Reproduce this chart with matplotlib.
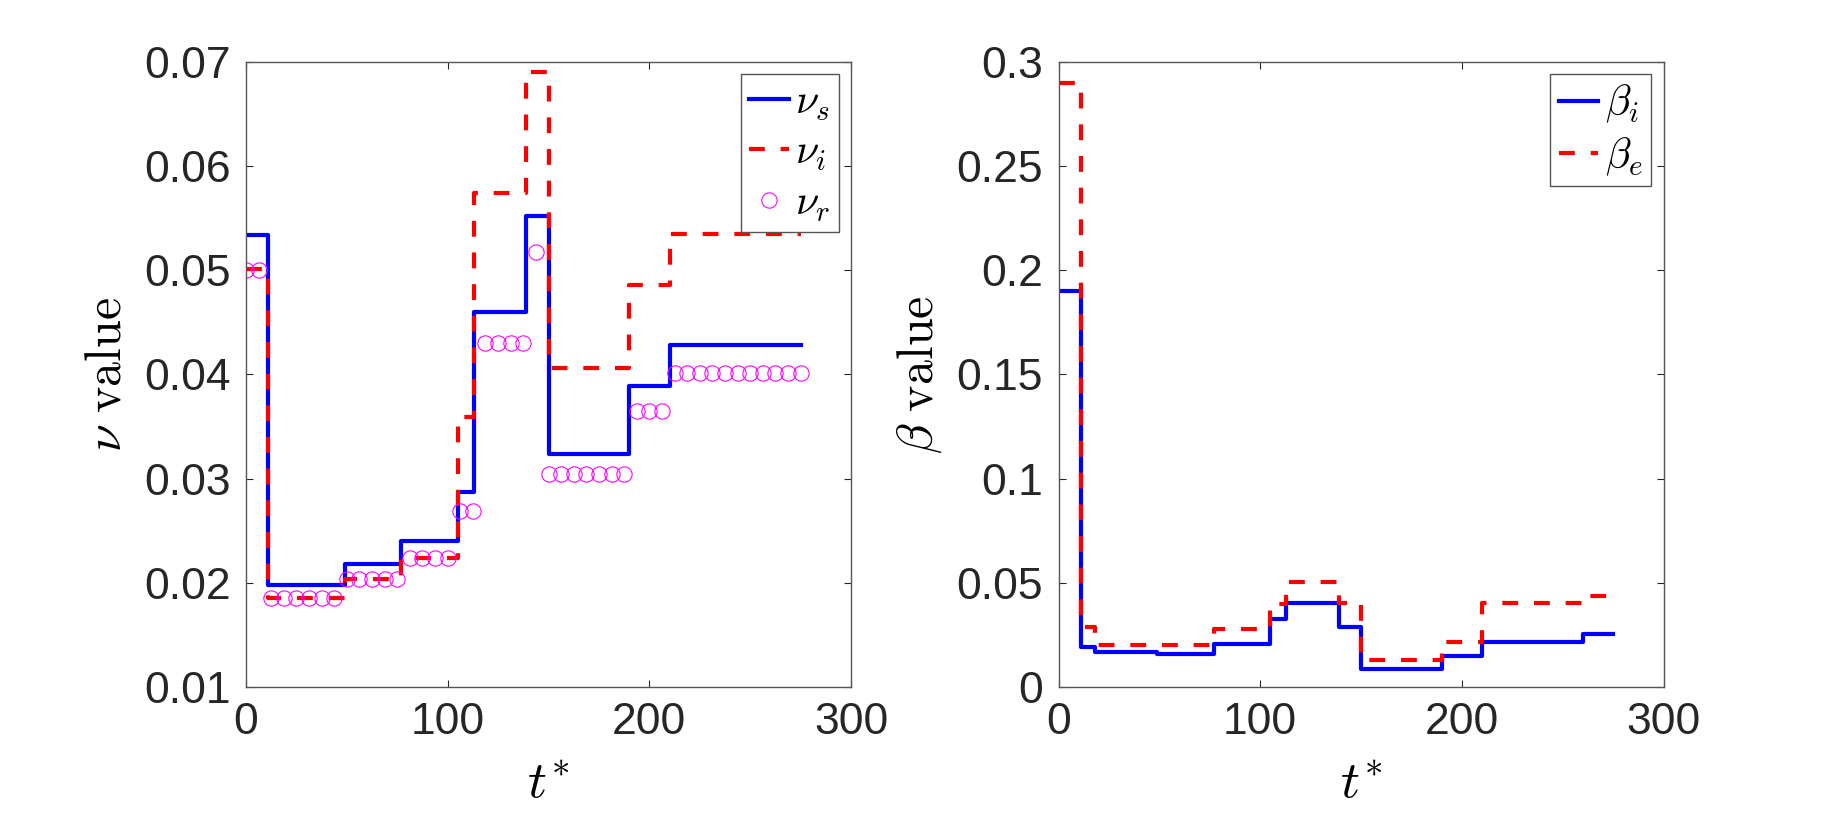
import numpy as np
import matplotlib
matplotlib.use('Agg')
import matplotlib.pyplot as plt

plt.rcParams['mathtext.fontset'] = 'cm'
plt.rcParams['font.family'] = ['Liberation Sans', 'DejaVu Sans']

# ---------------- data ----------------
# nu panel: step functions (value holds from edge[k] to edge[k+1])
nu_edges = [0, 11, 49, 77, 105, 113, 139, 150, 190, 210, 275]
nu_s = [0.0534, 0.0198, 0.0218, 0.0240, 0.0287, 0.0460, 0.0552, 0.0324, 0.0389, 0.0428]
nu_i = [0.0501, 0.0185, 0.0204, 0.0224, 0.0359, 0.0574, 0.0690, 0.0406, 0.0486, 0.0535]

# nu_r: individual points
t_r = [0, 6.25, 12.5, 18.75, 25, 31.25, 37.5, 43.75, 50, 56.25, 62.5, 68.75, 75,
       81.25, 87.5, 93.75, 100, 106.25, 112.5, 118.75, 125, 131.25, 137.5, 143.75,
       150, 156.25, 162.5, 168.75, 175, 181.25, 187.5, 193.75, 200, 206.25,
       212.5, 218.75, 225, 231.25, 237.5, 243.75, 250, 256.25, 262.5, 268.75, 275]
nu_r = [0.0500, 0.0500,
        0.0185, 0.0185, 0.0185, 0.0185, 0.0185, 0.0185,
        0.0204, 0.0204, 0.0204, 0.0204, 0.0204,
        0.0224, 0.0224, 0.0224, 0.0224,
        0.0269, 0.0269,
        0.0430, 0.0430, 0.0430, 0.0430,
        0.0517,
        0.0304, 0.0304, 0.0304, 0.0304, 0.0304, 0.0304, 0.0304,
        0.0365, 0.0365, 0.0365,
        0.0401, 0.0401, 0.0401, 0.0401, 0.0401, 0.0401, 0.0401, 0.0401, 0.0401,
        0.0401, 0.0401]

# beta panel
beta_edges = [0, 11, 18, 49, 77, 105, 113, 139, 150, 190, 210, 260, 275]
beta_i = [0.190, 0.0192, 0.0167, 0.0160, 0.0206, 0.0327, 0.0403, 0.0288, 0.0085, 0.0147, 0.0216, 0.0253]
beta_e = [0.290, 0.0290, 0.0203, 0.0203, 0.0276, 0.0400, 0.0504, 0.0403, 0.0131, 0.0216, 0.0403, 0.0437]

x_ticks = [0, 100, 200, 300]
nu_ticks = [0.01, 0.02, 0.03, 0.04, 0.05, 0.06, 0.07]
nu_tick_labels = ['0.01', '0.02', '0.03', '0.04', '0.05', '0.06', '0.07']
beta_ticks = [0, 0.05, 0.1, 0.15, 0.2, 0.25, 0.3]
beta_tick_labels = ['0', '0.05', '0.1', '0.15', '0.2', '0.25', '0.3']

# ---------------- styling ----------------
W, H = 1845, 816
fig = plt.figure(figsize=(W / 100, H / 100), dpi=100)

ax_left = 246 / W
ax_w = 605 / W
ax_bot = 1 - 687 / H
ax_h = (687 - 61.7) / H
ax1 = fig.add_axes([ax_left, ax_bot, ax_w, ax_h])
ax2 = fig.add_axes([1058.5 / W, ax_bot, ax_w, ax_h])

dark = '#262626'
lw = 3
dash = (3.8, 3.8)


def steps(edges, vals):
    return edges, list(vals) + [vals[-1]]


def style(ax):
    ax.tick_params(direction='in', length=5, width=0.8, top=True, right=True,
                   labelsize=32, colors=dark, pad=11)
    for s in ax.spines.values():
        s.set_color('#555555')
        s.set_linewidth(1.0)


# left panel
x, y = steps(nu_edges, nu_s)
ax1.step(x, y, where='post', color='#0000ff', lw=lw, label=r'$\nu_s$')
x, y = steps(nu_edges, nu_i)
ax1.step(x, y, where='post', color='#ff0000', lw=lw, ls=(0, dash), label=r'$\nu_i$')
ax1.plot(t_r, nu_r, 'o', ms=11, mfc='none', mec='#ff00ff', mew=0.8, label=r'$\nu_r$')
ax1.set_xlim(0, 300)
ax1.set_ylim(0.01, 0.07)
ax1.set_xticks(x_ticks)
ax1.set_yticks(nu_ticks)
ax1.set_yticklabels(nu_tick_labels)
ax1.set_xlabel(r'$t^{*}$', fontsize=38, va='baseline')
ax1.set_ylabel(r'$\nu\ \mathrm{value}$', fontsize=36, va='baseline')
style(ax1)

# right panel
x, y = steps(beta_edges, beta_i)
ax2.step(x, y, where='post', color='#0000ff', lw=lw, label=r'$\beta_i$')
x, y = steps(beta_edges, beta_e)
ax2.step(x, y, where='post', color='#ff0000', lw=lw, ls=(0, dash), label=r'$\beta_e$')
ax2.set_xlim(0, 300)
ax2.set_ylim(0, 0.3)
ax2.set_xticks(x_ticks)
ax2.set_yticks(beta_ticks)
ax2.set_yticklabels(beta_tick_labels)
ax2.set_xlabel(r'$t^{*}$', fontsize=38, va='baseline')
ax2.set_ylabel(r'$\beta\ \mathrm{value}$', fontsize=36, va='baseline')
style(ax2)

for ax in (ax1, ax2):
    ax.xaxis.set_label_coords(0.5, -0.1775)
    ax.yaxis.set_label_coords(-0.207, 0.5)
    leg = ax.legend(loc='upper right', fontsize=30, handlelength=0.95,
                    handletextpad=0.15, labelspacing=0.25, borderpad=0.2,
                    borderaxespad=0.3, fancybox=False, framealpha=1)
    leg.get_frame().set_edgecolor('#555555')
    leg.get_frame().set_linewidth(1.0)

fig.savefig('out.png', dpi=100, facecolor='white')
